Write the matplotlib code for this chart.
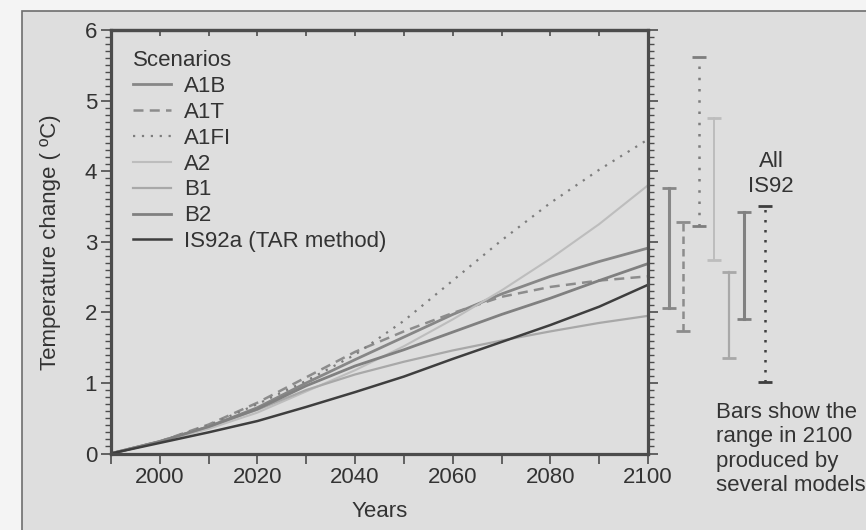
import matplotlib.pyplot as plt
from matplotlib.patches import Rectangle
from matplotlib.ticker import MultipleLocator

plt.rcParams['font.family'] = ['Liberation Sans', 'DejaVu Sans']

# valores (cambio de temperatura, ºC)
years = [1990, 2000, 2010, 2020, 2030, 2040, 2050, 2060, 2070, 2080, 2090, 2100]
a1b = [0, 0.17, 0.38, 0.65, 1.00, 1.33, 1.65, 1.97, 2.26, 2.51, 2.72, 2.91]
a1t = [0, 0.17, 0.41, 0.72, 1.08, 1.44, 1.73, 1.99, 2.22, 2.36, 2.45, 2.51]
a1fi = [0, 0.17, 0.40, 0.70, 1.03, 1.40, 1.88, 2.45, 3.02, 3.55, 4.02, 4.45]
a2 = [0, 0.16, 0.35, 0.58, 0.88, 1.18, 1.52, 1.90, 2.31, 2.76, 3.25, 3.80]
b1 = [0, 0.17, 0.38, 0.62, 0.90, 1.12, 1.30, 1.46, 1.60, 1.73, 1.85, 1.95]
b2 = [0, 0.17, 0.38, 0.63, 0.96, 1.24, 1.47, 1.72, 1.97, 2.20, 2.45, 2.69]
is92a = [0, 0.15, 0.30, 0.46, 0.66, 0.87, 1.09, 1.34, 1.58, 1.82, 2.08, 2.39]

scenarios = ['A1B', 'A1T', 'A1FI', 'A2', 'B1', 'B2', 'IS92a (TAR method)']
series = [a1b, a1t, a1fi, a2, b1, b2, is92a]

# rangos en 2100 (barras)
bar_low = [2.06, 1.73, 3.22, 2.74, 1.35, 1.90, 1.01]
bar_high = [3.76, 3.28, 5.62, 4.75, 2.57, 3.42, 3.50]

# estilos
colors = ['#878787', '#8c8c8c', '#7d7d7d', '#bdbdbd', '#a8a8a8', '#808080', '#3e3e3e']
styles = ['-', (0, (4, 2.5)), (0, (1, 3)), '-', '-', '-', '-']
widths = [2.0, 1.8, 1.6, 1.5, 1.6, 2.0, 1.8]
bar_x = [2104.3, 2107.2, 2110.5, 2113.5, 2116.6, 2119.7, 2124.0]
bar_styles = ['-', (0, (3, 2)), (0, (1, 3.5)), '-', '-', '-', (0, (1, 3))]
bar_widths = [2.2, 1.8, 1.8, 1.4, 1.6, 2.2, 1.8]

txt = '#333333'
fig = plt.figure(figsize=(8.66, 5.30), dpi=100, facecolor='#f4f4f4')
fig.patches.append(Rectangle((22 / 866, -0.2), 1.2, 1.2 - 11 / 530,
                             transform=fig.transFigure, facecolor='#dedede',
                             edgecolor='#6e6e6e', linewidth=1.2, zorder=-5))

ax = fig.add_axes([111 / 866, 1 - 453.5 / 530, 537 / 866, 423.5 / 530])
ax.set_facecolor('none')

for s, lab, c, ls, lw in zip(series, scenarios, colors, styles, widths):
    ax.plot(years, s, color=c, linestyle=ls, linewidth=lw, label=lab)

for x, lo, hi, c, ls, lw in zip(bar_x, bar_low, bar_high, colors, bar_styles, bar_widths):
    ax.plot([x, x], [lo, hi], color=c, linestyle=ls, linewidth=lw, clip_on=False)
    ax.plot([x, x], [lo, hi], color=c, linestyle='none', marker='_',
            markersize=9.5, markeredgewidth=2.0, clip_on=False)

ax.set_xlim(1990, 2100)
ax.set_ylim(0, 6)
ax.set_xticks([2000, 2020, 2040, 2060, 2080, 2100], minor=False)
ax.set_xticks(years, minor=True)
ax.yaxis.set_major_locator(MultipleLocator(1))
ax.yaxis.set_minor_locator(MultipleLocator(0.1))

for sp in ax.spines.values():
    sp.set_linewidth(2.3)
    sp.set_color('#4c4c4c')

ax.tick_params(axis='y', which='both', direction='out', left=True, right=True,
               labelright=False, color='#4c4c4c', labelcolor=txt, labelsize=16, pad=3)
ax.tick_params(axis='y', which='major', length=7, width=1.2)
ax.tick_params(axis='y', which='minor', length=4.5, width=1.0)
ax.tick_params(axis='x', which='both', direction='out', length=7, width=1.2,
               color='#4c4c4c', labelcolor=txt, labelsize=16, pad=3)

top = ax.secondary_xaxis('top')
top.set_xticks(years)
top.tick_params(direction='in', length=4, width=1.2, color='#4c4c4c', labeltop=False)
top.spines['top'].set_linewidth(2.3)
top.spines['top'].set_color('#4c4c4c')

ax.set_ylabel('Temperature change ( ºC)', fontsize=16, color=txt, labelpad=17)
ax.set_xlabel('Years', fontsize=16, color=txt, labelpad=9)

leg = ax.legend(title='Scenarios', alignment='left', frameon=False, loc='upper left',
                bbox_to_anchor=(133 / 866, 1 - 50 / 530), bbox_transform=fig.transFigure,
                borderaxespad=0, borderpad=0, handlelength=1.7, handletextpad=0.6,
                labelspacing=0.22, fontsize=16, title_fontsize=16)
for t in leg.get_texts():
    t.set_color(txt)
leg.get_title().set_color(txt)

fig.text(771 / 866, 1 - 174 / 530, 'All\nIS92', ha='center', va='center',
         fontsize=16, color=txt, linespacing=1.2)
fig.text(716 / 866, 1 - 449 / 530, 'Bars show the\nrange in 2100\nproduced by\nseveral models',
         ha='left', va='center', fontsize=16, color=txt, linespacing=1.2)

fig.savefig('out.png', dpi=100, facecolor=fig.get_facecolor())
